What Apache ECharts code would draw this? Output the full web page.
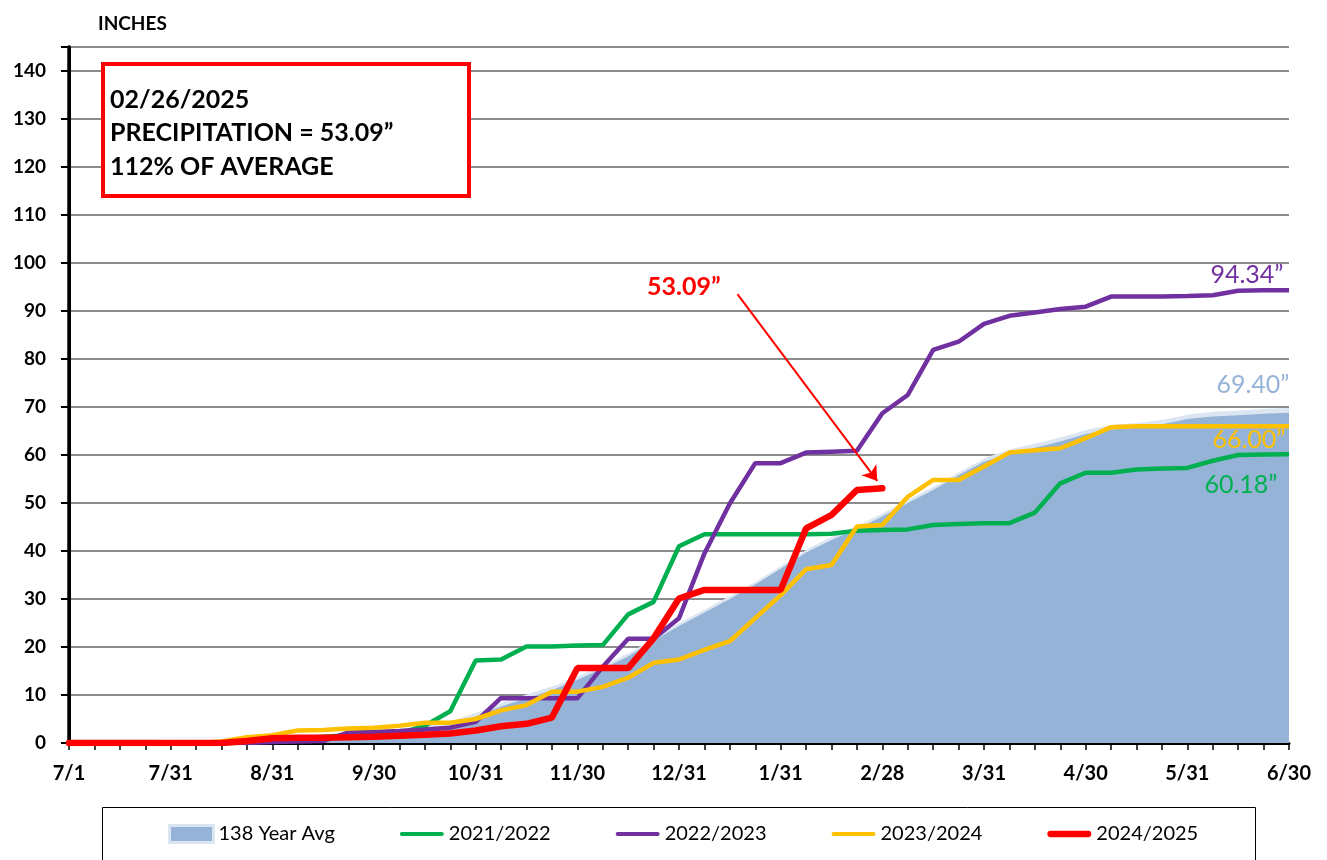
<!DOCTYPE html>
<html>
<head>
<meta charset="utf-8">
<title>Season Precipitation</title>
<script src="https://cdn.jsdelivr.net/npm/echarts@6/dist/echarts.min.js"></script>
<style>
  html, body { margin: 0; padding: 0; background: #fff; }
  #chart { width: 1327px; height: 860px; }
</style>
</head>
<body>
<div id="chart"></div>
<script>
// x positions are quarter-month steps from 7/1 (0) to 6/30 (48)
var tickLabels = ['7/1', '7/31', '8/31', '9/30', '10/31', '11/30', '12/31',
                  '1/31', '2/28', '3/31', '4/30', '5/31', '6/30'];

var seriesNames = ['138 Year Avg', '2021/2022', '2022/2023', '2023/2024', '2024/2025'];

var avgValues = [0, 0, 0, 0, 0.05, 0.1, 0.1, 0.15, 0.3, 0.5, 0.7, 1.0, 1.3, 2.0, 2.7, 3.7,
  5.5, 7.6, 9.3, 11.0, 13.2, 15.5, 18.0, 21.3, 24.4, 27.2, 30.0, 33.0, 36.3, 39.7, 42.3, 44.6,
  47.2, 50.0, 52.7, 55.8, 58.6, 60.3, 61.5, 62.8, 64.4, 65.3, 65.7, 66.4, 67.5, 68.0, 68.3, 68.6, 68.8];

var wy2122 = [0, 0, 0, 0, 0, 0, 0, 0, 0.6, 1.0, 1.3, 1.6, 1.8, 2.0, 3.6, 6.6,
  17.2, 17.4, 20.1, 20.1, 20.3, 20.4, 26.8, 29.4, 41.0, 43.5, 43.5, 43.5, 43.5, 43.5, 43.6, 44.2,
  44.4, 44.5, 45.4, 45.6, 45.8, 45.8, 48.0, 54.1, 56.3, 56.3, 57.0, 57.2, 57.3, 58.8, 60.0, 60.1, 60.18];

var wy2223 = [0, 0, 0, 0, 0, 0, 0, 0, 0.2, 0.3, 0.4, 2.2, 2.3, 2.5, 2.8, 3.2,
  4.4, 9.4, 9.3, 9.3, 9.3, 15.9, 21.7, 21.7, 26.0, 39.5, 49.9, 58.3, 58.3, 60.5, 60.7, 60.9,
  68.7, 72.5, 81.9, 83.6, 87.3, 89.0, 89.7, 90.4, 90.9, 93.0, 93.0, 93.0, 93.1, 93.3, 94.2, 94.3, 94.34];

var wy2324 = [0, 0, 0, 0, 0, 0, 0.3, 1.2, 1.6, 2.6, 2.7, 3.0, 3.2, 3.6, 4.2, 4.2,
  5.0, 6.8, 7.9, 10.7, 10.7, 11.7, 13.6, 16.7, 17.4, 19.4, 21.2, 26.0, 30.8, 36.2, 37.1, 45.1,
  45.4, 51.3, 54.8, 54.8, 57.6, 60.5, 61.0, 61.4, 63.5, 65.8, 66.0, 66.0, 66.0, 66.0, 66.0, 66.0, 66.0];

var wy2425 = [0, 0, 0, 0, 0, 0, 0, 0.4, 1.0, 1.1, 1.1, 1.2, 1.3, 1.5, 1.7, 2.0,
  2.6, 3.5, 4.0, 5.3, 15.6, 15.6, 15.6, 21.8, 30.1, 31.9, 31.9, 31.9, 31.9, 44.7, 47.5, 52.7, 53.09];

var endLabels = ['69.40\u201D', '60.18\u201D', '94.34\u201D', '66.00\u201D'];

var colors = ['#95b3d7', '#00b050', '#7030a0', '#ffc000', '#ff0000'];
var FONT = 'Lato, "Liberation Sans", sans-serif';

function pairs(arr) {
    return arr.map(function (v, i) { return [i, v]; });
}

function endMark(arr, k, dx, dy) {
    return {
        symbol: 'circle',
        symbolSize: 1,
        silent: true,
        itemStyle: { color: 'rgba(0,0,0,0)' },
        label: {
            show: true,
            position: 'left',
            distance: 0,
            offset: [dx, dy],
            color: colors[k],
            fontFamily: FONT,
            fontSize: 25,
            formatter: function () { return endLabels[k]; }
        },
        data: [{ coord: [arr.length - 1, arr[arr.length - 1]] }]
    };
}

var linePath = 'path://M2,0 L40,0 A2,2 0 0 1 40,4 L2,4 A2,2 0 0 1 2,0 Z';
var thickPath = 'path://M3,0 L39,0 A3,3 0 0 1 39,6 L3,6 A3,3 0 0 1 3,0 Z';

var chart = echarts.init(document.getElementById('chart'));

var option = {
    animation: false,
    textStyle: { fontFamily: FONT },
    title: {
        text: 'INCHES',
        left: 93,
        top: 9,
        textStyle: { fontFamily: FONT, fontSize: 19, fontWeight: 'bold', color: '#000' }
    },
    grid: { left: 69, right: 38, top: 47, bottom: 117, outerBoundsMode: 'none' },
    legend: {
        left: 168,
        top: 824,
        padding: 0,
        itemWidth: 44,
        itemHeight: 17,
        itemGap: 65,
        itemStyle: { borderWidth: 0 },
        textStyle: { fontFamily: FONT, fontSize: 20, color: '#000' },
        data: [
            { name: seriesNames[0], icon: 'rect',
              itemStyle: { color: '#95b3d7', borderColor: '#dce6f2', borderWidth: 3 },
              textStyle: { width: 121 } },
            { name: seriesNames[1], icon: linePath, textStyle: { width: 100 } },
            { name: seriesNames[2], icon: linePath, textStyle: { width: 100 } },
            { name: seriesNames[3], icon: linePath, textStyle: { width: 100 } },
            { name: seriesNames[4], icon: thickPath, textStyle: { width: 100 } }
        ]
    },
    xAxis: [{
        type: 'value',
        min: 0,
        max: 48,
        interval: 4,
        axisLine: { show: true, onZero: false, lineStyle: { color: '#7f7f7f', width: 1 } },
        axisTick: { show: true, length: 7, lineStyle: { color: '#000', width: 1.5 } },
        minorTick: { show: true, splitNumber: 4, length: 7, lineStyle: { color: '#000', width: 1.5 } },
        splitLine: { show: false },
        axisLabel: {
            margin: 21,
            fontSize: 20,
            fontWeight: 'bold',
            color: '#000',
            fontFamily: FONT,
            formatter: function (v) { return tickLabels[Math.round(v / 4)] || ''; }
        }
    }, {
        type: 'value',
        position: 'top',
        min: 0,
        max: 48,
        axisLine: { show: true, lineStyle: { color: '#000', width: 3 } },
        axisTick: { show: false },
        axisLabel: { show: false },
        splitLine: { show: false }
    }],
    yAxis: [{
        type: 'value',
        min: 0,
        max: 145,
        interval: 10,
        axisLine: { show: true, lineStyle: { color: '#000', width: 3.5 } },
        axisTick: { show: true, length: 8, lineStyle: { color: '#000', width: 2 } },
        splitLine: { show: true, lineStyle: { color: '#8c8c8c', width: 2 } },
        axisLabel: {
            margin: 23,
            fontSize: 19,
            fontWeight: 'bold',
            color: '#000',
            fontFamily: FONT,
            formatter: function (v) { return v % 10 === 0 ? String(v) : ''; }
        }
    }, {
        type: 'value',
        position: 'right',
        min: 0,
        max: 145,
        axisLine: { show: true, lineStyle: { color: '#000', width: 3 } },
        axisTick: { show: false },
        axisLabel: { show: false },
        splitLine: { show: false }
    }],
    series: [
        {
            name: seriesNames[0],
            type: 'line',
            data: pairs(avgValues),
            showSymbol: false,
            z: 1,
            itemStyle: { color: colors[0] },
            lineStyle: { width: 0 },
            areaStyle: {
                color: colors[0],
                opacity: 1,
                shadowColor: '#dce6f2',
                shadowBlur: 0,
                shadowOffsetX: 4,
                shadowOffsetY: -5
            },
            emphasis: { disabled: true },
            markPoint: endMark(avgValues, 0, 1, -28)
        },
        {
            name: seriesNames[1],
            type: 'line',
            data: pairs(wy2122),
            showSymbol: false,
            z: 2,
            itemStyle: { color: colors[1] },
            lineStyle: { color: colors[1], width: 4.5 },
            emphasis: { disabled: true },
            markPoint: endMark(wy2122, 1, -11, 31)
        },
        {
            name: seriesNames[2],
            type: 'line',
            data: pairs(wy2223),
            showSymbol: false,
            z: 3,
            itemStyle: { color: colors[2] },
            lineStyle: { color: colors[2], width: 4.5 },
            emphasis: { disabled: true },
            markPoint: endMark(wy2223, 2, -5, -15)
        },
        {
            name: seriesNames[3],
            type: 'line',
            data: pairs(wy2324),
            showSymbol: false,
            z: 4,
            itemStyle: { color: colors[3] },
            lineStyle: { color: colors[3], width: 4.5 },
            emphasis: { disabled: true },
            markPoint: endMark(wy2324, 3, -3, 14)
        },
        {
            name: seriesNames[4],
            type: 'line',
            data: pairs(wy2425),
            showSymbol: false,
            z: 5,
            itemStyle: { color: colors[4] },
            lineStyle: { color: colors[4], width: 6.5, cap: 'round' },
            emphasis: { disabled: true },
            // pointer from the "53.09" note to the latest value
            markLine: {
                silent: true,
                symbol: ['none', 'arrow'],
                symbolSize: 14,
                label: { show: false },
                lineStyle: { color: '#ff0000', width: 2, type: 'solid' },
                data: [[{ coord: [26.3, 93.5] }, { coord: [31.8, 54.6] }]]
            }
        }
    ],
    graphic: [
        {
            type: 'rect',
            shape: { x: 103, y: 64, width: 366, height: 132 },
            style: { fill: '#fff', stroke: '#ff0000', lineWidth: 4 },
            z: 10
        },
        { type: 'text', x: 110, y: 100, z: 11,
          style: { text: '02/26/2025', font: 'bold 25px ' + FONT, fill: '#000', verticalAlign: 'middle' } },
        { type: 'text', x: 110, y: 133, z: 11,
          style: { text: 'PRECIPITATION = 53.09\u201D', font: 'bold 25px ' + FONT, fill: '#000', verticalAlign: 'middle' } },
        { type: 'text', x: 110, y: 167, z: 11,
          style: { text: '112% OF AVERAGE', font: 'bold 25px ' + FONT, fill: '#000', verticalAlign: 'middle' } },
        { type: 'text', x: 647, y: 287, z: 11,
          style: { text: '53.09\u201D', font: 'bold 25px ' + FONT, fill: '#ff0000', verticalAlign: 'middle' } },
        {
            type: 'rect',
            shape: { x: 102.5, y: 807.5, width: 1153, height: 80 },
            style: { fill: 'none', stroke: '#000', lineWidth: 1 },
            z: 0
        }
    ]
};

chart.setOption(option);
</script>
</body>
</html>
